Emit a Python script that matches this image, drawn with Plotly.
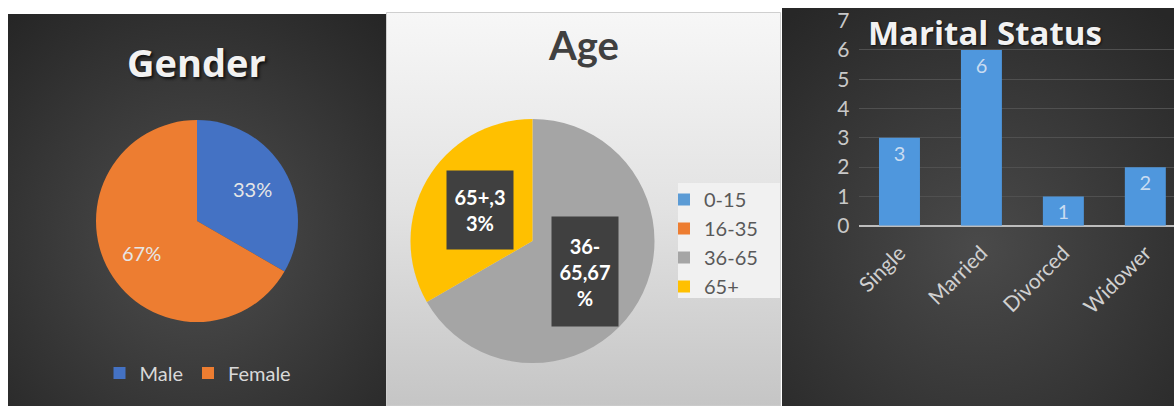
import base64
import math
import plotly.graph_objects as go

W, H = 1174, 406

# ---- data ----
gender_labels = ["Male", "Female"]
gender_counts = [4, 8]

age_labels = ["0-15", "16-35", "36-65", "65+"]
age_counts = [0, 0, 8, 4]

marital_labels = ["Single", "Married", "Divorced", "Widower"]
marital_counts = [3, 6, 1, 2]
y_ticks = [0, 1, 2, 3, 4, 5, 6, 7]

# ---- colours ----
gender_colors = ["#4472C4", "#ED7D31"]
age_colors = ["#5B9BD5", "#ED7D31", "#A5A5A5", "#FFC000"]
bar_color = "#4f97dd"

FONT = "Lato"


def px_x(x):
    return x / W


def px_y(y):
    return 1 - y / H


def svg_uri(svg):
    return "data:image/svg+xml;base64," + base64.b64encode(svg.encode()).decode()


def radial_bg(w, h, inner, outer, cx="50%", cy="55%", r="75%"):
    svg = (
        f'<svg xmlns="http://www.w3.org/2000/svg" width="{w}" height="{h}" '
        f'viewBox="0 0 {w} {h}" preserveAspectRatio="none">'
        f'<defs><radialGradient id="g" cx="{cx}" cy="{cy}" r="{r}">'
        f'<stop offset="0" stop-color="{inner}"/><stop offset="1" stop-color="{outer}"/>'
        f'</radialGradient></defs><rect width="{w}" height="{h}" fill="url(#g)"/></svg>'
    )
    return svg_uri(svg)


def linear_bg(w, h, stops):
    st = "".join(f'<stop offset="{o}" stop-color="{c}"/>' for o, c in stops)
    svg = (
        f'<svg xmlns="http://www.w3.org/2000/svg" width="{w}" height="{h}" '
        f'viewBox="0 0 {w} {h}" preserveAspectRatio="none">'
        f'<defs><linearGradient id="g" x1="0" y1="0" x2="0" y2="1">{st}</linearGradient></defs>'
        f'<rect width="{w}" height="{h}" fill="url(#g)"/></svg>'
    )
    return svg_uri(svg)


def panel_image(src, x0, y0, x1, y1):
    return dict(
        source=src, xref="paper", yref="paper",
        x=px_x(x0), y=px_y(y0), sizex=(x1 - x0) / W, sizey=(y1 - y0) / H,
        xanchor="left", yanchor="top", sizing="stretch", layer="below",
    )


def wrap_label(text, width=5):
    # break after a hyphen first, then in fixed-width chunks
    parts = []
    if "-" in text:
        head, tail = text.split("-", 1)
        parts.append(head + "-")
        text = tail
    while text:
        parts.append(text[:width])
        text = text[width:]
    return "<br>".join(parts)


def slice_label_positions(values, cx, cy, r, frac):
    """Yield (index, x_px, y_px, share) at each non-empty slice's mid-angle
    (clockwise from 12 o'clock)."""
    total = sum(values)
    cum = 0
    for i, v in enumerate(values):
        if v == 0:
            continue
        mid = (cum + v / 2) / total * 2 * math.pi
        cum += v
        yield i, cx + frac * r * math.sin(mid), cy - frac * r * math.cos(mid), v / total


fig = go.Figure()

# ---- Gender pie ----
g_cx, g_cy, g_r = 197, 221, 101
fig.add_trace(go.Pie(
    labels=gender_labels, values=gender_counts,
    marker=dict(colors=gender_colors, line=dict(width=0)),
    sort=False, direction="clockwise", rotation=0,
    textinfo="none",
    domain=dict(x=[px_x(g_cx - g_r), px_x(g_cx + g_r)], y=[px_y(g_cy + g_r), px_y(g_cy - g_r)]),
    legend="legend", hoverinfo="label+percent",
))

# ---- Age pie ----
a_cx, a_cy, a_r = 532.5, 241, 122
fig.add_trace(go.Pie(
    labels=age_labels, values=age_counts,
    marker=dict(colors=age_colors, line=dict(width=0)),
    sort=False, direction="clockwise", rotation=0,
    textinfo="none",
    domain=dict(x=[px_x(a_cx - a_r), px_x(a_cx + a_r)], y=[px_y(a_cy + a_r), px_y(a_cy - a_r)]),
    legend="legend2", hoverinfo="label+percent",
))

# ---- Marital status bars ----
fig.add_trace(go.Bar(
    x=marital_labels, y=marital_counts, width=0.5,
    marker=dict(color=bar_color, line=dict(width=0)),
    text=marital_counts, texttemplate="%{y}", textposition="inside",
    insidetextanchor="end", textangle=0,
    textfont=dict(family=FONT, size=20, color="#c9dcf1"),
    showlegend=False, xaxis="x", yaxis="y",
))

annotations = []

# Gender percentages
for i, x, y, share in slice_label_positions(gender_counts, g_cx, g_cy, g_r, 0.63):
    annotations.append(dict(
        x=px_x(x), y=px_y(y), xref="paper", yref="paper",
        text=f"{round(100 * share)}%", showarrow=False,
        font=dict(family=FONT, size=20, color="#e6e6e6"),
        xanchor="center", yanchor="middle",
    ))

# Age data labels in dark boxes
for i, x, y, share in slice_label_positions(age_counts, a_cx, a_cy, a_r, 0.5):
    txt = wrap_label(f"{age_labels[i]},{round(100 * share)}%")
    n_lines = txt.count("<br>") + 1
    annotations.append(dict(
        x=px_x(x), y=px_y(y), xref="paper", yref="paper",
        text=f"<b>{txt}</b>", showarrow=False,
        font=dict(family=FONT, size=20, color="#ffffff"),
        bgcolor="#404040", width=64, height=14 + 31 * n_lines,
        xanchor="center", yanchor="middle", align="center",
    ))

# titles
annotations.append(dict(
    x=px_x(196), y=px_y(62), xref="paper", yref="paper", text="<b>Gender</b>",
    showarrow=False, xanchor="center", yanchor="middle",
    font=dict(family="Open Sans", size=38, color="#f2f2f2", shadow="2px 2px 3px #111111"),
))
annotations.append(dict(
    x=px_x(583), y=px_y(45), xref="paper", yref="paper", text="<b>Age</b>",
    showarrow=False, xanchor="center", yanchor="middle",
    font=dict(family=FONT, size=40, color="#404040"),
))
annotations.append(dict(
    x=px_x(985), y=px_y(32), xref="paper", yref="paper", text="<b>Marital Status</b>",
    showarrow=False, xanchor="center", yanchor="middle",
    font=dict(family="Open Sans", size=33, color="#f2f2f2", shadow="1px 1px 2px #111111"),
))

images = [
    panel_image(radial_bg(378, 392, "#4e4e4e", "#262626", cy="58%"), 8, 14, 386, 406),
    panel_image(linear_bg(395, 394, [(0, "#f7f7f7"), (0.5, "#e2e2e2"), (1, "#c5c5c5")]), 386, 12, 781, 406),
    panel_image(radial_bg(392, 398, "#4a4a4a", "#272727", cy="60%"), 782, 8, 1174, 406),
]

shapes = [
    dict(type="rect", xref="paper", yref="paper",
         x0=px_x(386.5), x1=px_x(780.5), y0=px_y(406), y1=px_y(12.5),
         line=dict(color="#cfcfcf", width=1), fillcolor="rgba(0,0,0,0)", layer="below"),
    # backdrop behind the age legend
    dict(type="rect", xref="paper", yref="paper",
         x0=px_x(678), x1=px_x(780), y0=px_y(298), y1=px_y(183),
         line=dict(width=0), fillcolor="#f1f1f1", layer="below"),
]

fig.update_layout(
    width=W, height=H,
    margin=dict(l=0, r=0, t=0, b=0, autoexpand=False),
    paper_bgcolor="#ffffff", plot_bgcolor="rgba(0,0,0,0)",
    images=images, shapes=shapes, annotations=annotations,
    legend=dict(
        orientation="h", x=px_x(198), y=px_y(373), xanchor="center", yanchor="middle",
        xref="container", yref="container",
        font=dict(family=FONT, size=20, color="#d9d9d9"), bgcolor="rgba(0,0,0,0)",
        itemclick=False, itemdoubleclick=False,
    ),
    legend2=dict(
        orientation="v", x=px_x(664), y=px_y(180), xanchor="left", yanchor="top",
        xref="container", yref="container",
        font=dict(family=FONT, size=20, color="#595959"), bgcolor="rgba(0,0,0,0)",
        itemclick=False, itemdoubleclick=False,
    ),
    xaxis=dict(
        domain=[px_x(858.5), 1], range=[-0.5, 3.35], type="category",
        tickangle=-45, tickfont=dict(family=FONT, size=21, color="#d0d0d0"),
        showgrid=False, showline=False, zeroline=False, ticks="", fixedrange=True,
        automargin=False, ticklabelstandoff=10,
    ),
    yaxis=dict(
        domain=[px_y(225.7), px_y(20.7)], range=[0, 7], tickvals=y_ticks,
        tickfont=dict(family=FONT, size=21, color="#c8c8c8"),
        gridcolor="#505050", gridwidth=1, zeroline=True, zerolinecolor="#bdbdbd",
        zerolinewidth=2, ticks="", ticklabelstandoff=8, fixedrange=True,
        automargin=False,
    ),
    bargap=0.5,
)

fig.write_html("out.html")
